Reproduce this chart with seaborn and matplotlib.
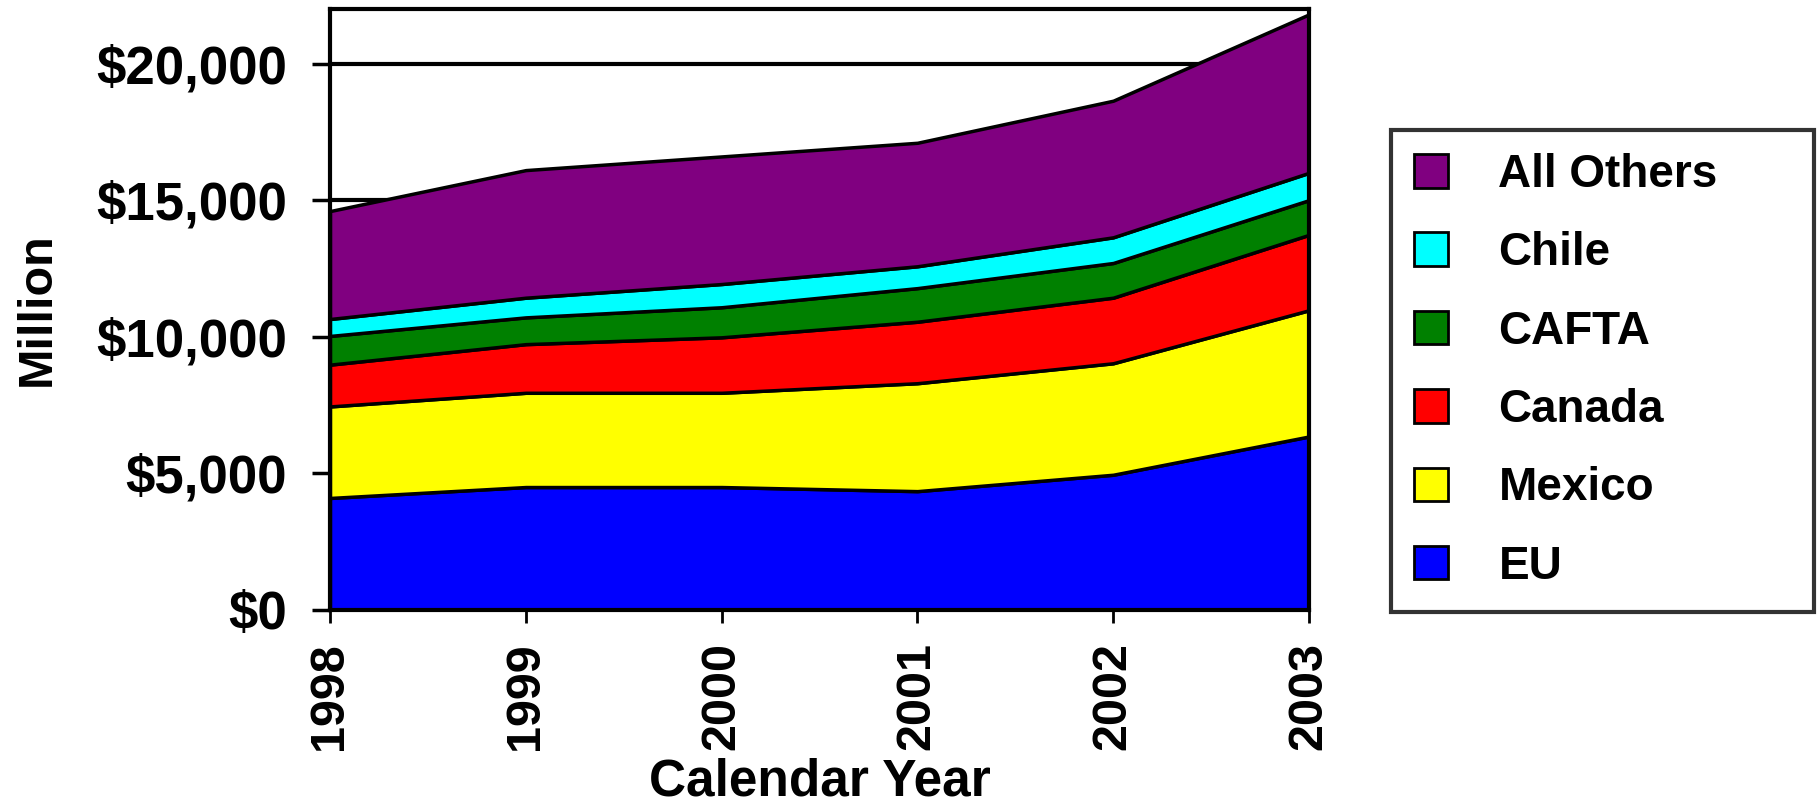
import pandas as pd
import seaborn as sns
import matplotlib.pyplot as plt
from matplotlib.ticker import FuncFormatter

# values (million $)
years = [1998, 1999, 2000, 2001, 2002, 2003]
eu = [4100, 4500, 4500, 4350, 4950, 6350]
mexico = [3350, 3450, 3450, 3950, 4080, 4620]
canada = [1530, 1780, 2030, 2250, 2400, 2760]
cafta = [1050, 980, 1100, 1230, 1270, 1270]
chile = [620, 720, 850, 800, 940, 1000]
all_others = [3950, 4670, 4670, 4520, 5000, 5800]

series_names = ["EU", "Mexico", "Canada", "CAFTA", "Chile", "All Others"]
colors = ["#0000ff", "#ffff00", "#ff0000", "#008000", "#00ffff", "#800080"]

df = pd.DataFrame({"Year": years, "EU": eu, "Mexico": mexico, "Canada": canada,
                   "CAFTA": cafta, "Chile": chile, "All Others": all_others})

sns.set_theme(style="ticks")
plt.rcParams['font.family'] = ['Liberation Sans', 'DejaVu Sans']
plt.rcParams['font.weight'] = 'bold'
for k in ['text.color', 'axes.labelcolor', 'xtick.color', 'ytick.color', 'axes.edgecolor']:
    plt.rcParams[k] = 'black'

fig = plt.figure(figsize=(18.18, 8.09), dpi=100)
ax = fig.add_axes([0.1815, 0.246, 0.5385, 0.743])

# black gridlines behind the areas
for yv in [5000, 10000, 15000, 20000]:
    ax.axhline(yv, color="black", lw=3, zorder=0)

polys = ax.stackplot(df["Year"], [df[c] for c in series_names], colors=colors,
                     edgecolor="black", linewidth=2.5, labels=series_names, zorder=2)

ax.set_xlim(1998, 2003)
ax.set_ylim(0, 22000)
ax.set_xticks(years)
ax.set_xticklabels([str(y) for y in years], rotation=90)
ax.set_yticks([0, 5000, 10000, 15000, 20000])
ax.yaxis.set_major_formatter(FuncFormatter(lambda v, p: "${:,.0f}".format(v)))

ax.tick_params(axis="y", labelsize=38, length=13, width=2.5, pad=18, color="black")
ax.tick_params(axis="x", labelsize=35, length=9, width=2, pad=14, color="black")
for lab in ax.get_xticklabels() + ax.get_yticklabels():
    lab.set_fontweight("bold")

for s in ax.spines.values():
    s.set_color("black")
    s.set_linewidth(3)
    s.set_zorder(5)

ax.set_ylabel("Million", fontsize=35, fontweight="bold")
ax.yaxis.set_label_coords(-0.276, 0.5)
ax.set_xlabel("Calendar Year", fontsize=37, fontweight="bold")
ax.xaxis.set_label_coords(0.5, -0.245)

handles, labels = ax.get_legend_handles_labels()
leg = ax.legend(handles[::-1], labels[::-1], loc="lower left",
                bbox_to_anchor=(0.765, 0.244, 0.233, 0.594), bbox_transform=fig.transFigure,
                mode="expand", fancybox=False, frameon=True, prop={"size": 33, "weight": "bold"},
                handlelength=0.75, handleheight=0.75, handletextpad=1.1,
                labelspacing=0.75, borderpad=0.5, borderaxespad=0)
leg.get_frame().set_edgecolor("black")
leg.get_frame().set_linewidth(3)
for h in leg.legend_handles:
    h.set_edgecolor("black")
    h.set_linewidth(2)

fig.savefig("out.png", dpi=100)
